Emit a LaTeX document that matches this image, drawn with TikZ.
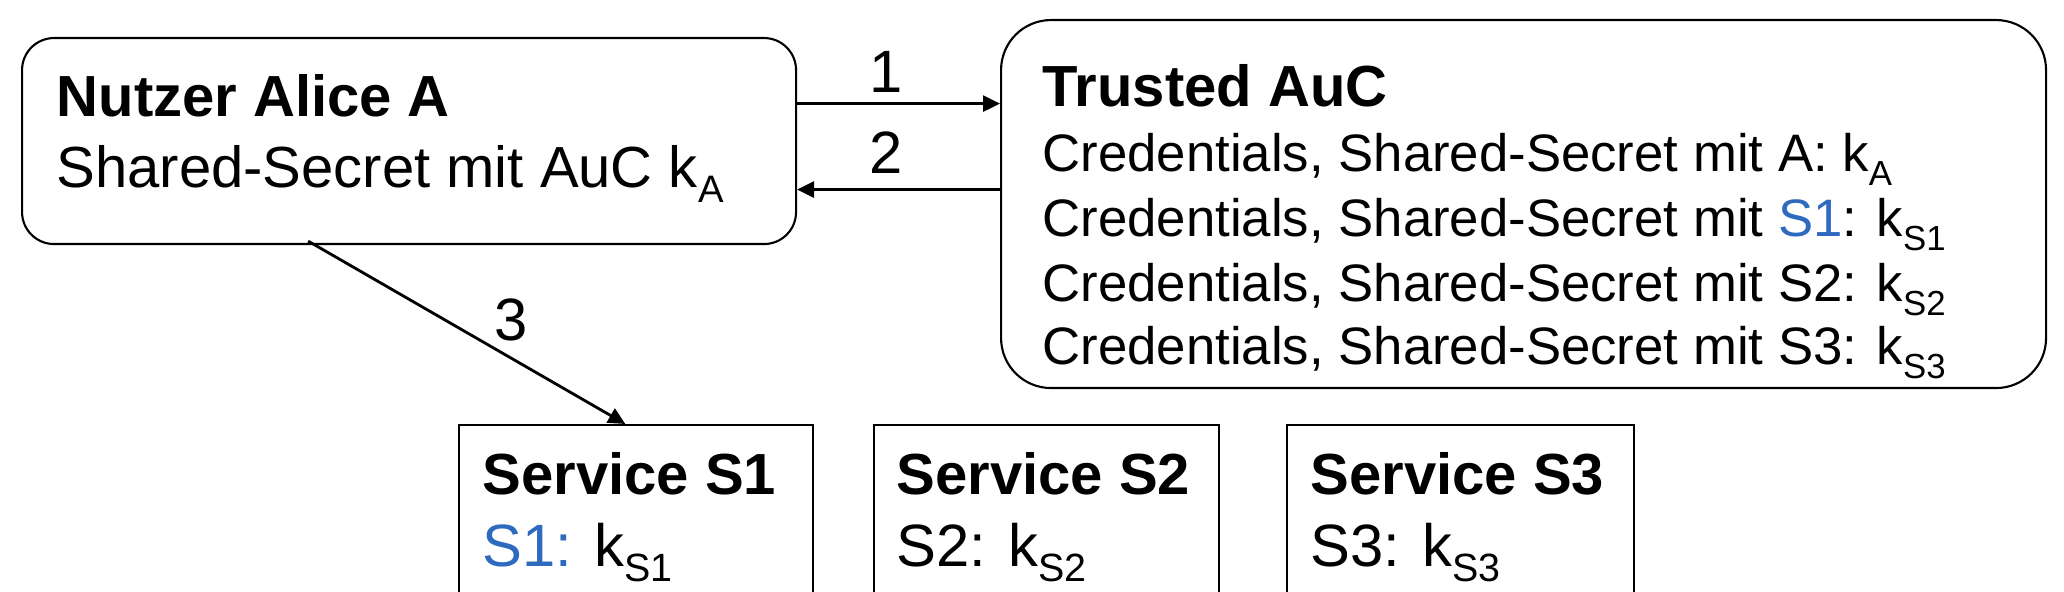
\documentclass[tikz,border=0pt]{standalone}
\usepackage{fontspec}
\setmainfont{Liberation Sans}
\usetikzlibrary{arrows.meta,calc}
\definecolor{sblau}{RGB}{46,107,190}
\newcommand{\kidx}[1]{k\raisebox{-0.25em}{\scalebox{0.66}{#1}}}

\begin{document}
\begin{tikzpicture}[
		box/.style={draw,line width=0.6pt,inner sep=0,anchor=north west},
		rbox/.style={box,rounded corners=#1},
		txt/.style={anchor=base west,inner sep=0},
		kopf/.style={txt,font=\fontsize{16.5}{20}\selectfont\bfseries},
		pfeil/.style={line width=0.8pt,-{Triangle[length=1.7mm,width=1.6mm]}},
		nr/.style={inner sep=0,font=\fontsize{17}{20}\selectfont}]
		\useasboundingbox (0,0) rectangle (20.64,5.92);
		\clip (0,0) rectangle (20.64,5.92);
		% Nutzer
		\node[rbox=3.2mm,minimum width=7.74cm,minimum height=2.06cm] (alice) at (0.21,5.55) {};
		\node[kopf] (aliceT) at (0.56,4.75) {Nutzer Alice A};
		\node[txt,font=\fontsize{16.5}{20}\selectfont] (aliceK) at (0.56,4.04) {Shared-Secret mit AuC \kidx{A}};
		% AuC
		\node[rbox=5mm,minimum width=10.45cm,minimum height=3.68cm] (auc) at (10.00,5.73) {};
		\node[kopf] (aucT) at (10.42,4.85) {Trusted AuC};
		\begin{scope}[every node/.style={txt,font=\fontsize{15}{18}\selectfont}]
		\node (aucA) at (10.42,4.20) {Credentials, Shared-Secret mit A: \kidx{A}};
		\node (aucS1) at (10.42,3.55) {Credentials, Shared-Secret mit \textcolor{sblau}{S1}: \kidx{S1}};
		\node (aucS2) at (10.42,2.90) {Credentials, Shared-Secret mit S2: \kidx{S2}};
		\node (aucS3) at (10.42,2.27) {Credentials, Shared-Secret mit S3: \kidx{S3}};
		\end{scope}
		% Services
		\node[box,minimum width=3.54cm,minimum height=2.3cm] (s1) at (4.58,1.68) {};
		\node[box,minimum width=3.45cm,minimum height=2.3cm] (s2) at (8.73,1.68) {};
		\node[box,minimum width=3.47cm,minimum height=2.3cm] (s3) at (12.86,1.68) {};
		\node[kopf] (s1T) at (4.82,0.97) {Service S1};
		\node[kopf] (s2T) at (8.96,0.97) {Service S2};
		\node[kopf] (s3T) at (13.10,0.97) {Service S3};
		\begin{scope}[every node/.style={txt,font=\fontsize{17}{20}\selectfont}]
		\node (s1K) at (4.82,0.25) {\textcolor{sblau}{S1:} \kidx{S1}};
		\node (s2K) at (8.96,0.25) {S2: \kidx{S2}};
		\node (s3K) at (13.10,0.25) {S3: \kidx{S3}};
		\end{scope}
		% Pfeile
		\coordinate (a1) at ($(alice.north east)!0.32!(alice.south east)$);
		\coordinate (a2) at ($(alice.north east)!0.733!(alice.south east)$);
		\coordinate (a3) at ($(alice.south west)!0.37!(alice.south east)+(0,0.04)$);
		\coordinate (e3) at ($(s1.north west)!0.47!(s1.north east)$);
		\draw[pfeil] (a1) -- (a1 -| auc.west) node[nr,midway,above=1mm,xshift=-1.2mm] {1};
		\draw[pfeil] (a2 -| auc.west) -- (a2) node[nr,midway,above=1.5mm,xshift=-1.2mm] {2};
		\draw[pfeil] (a3) -- (e3) node[nr,pos=0.64,above=1.6mm] {3};
		\end{tikzpicture}
\end{document}
